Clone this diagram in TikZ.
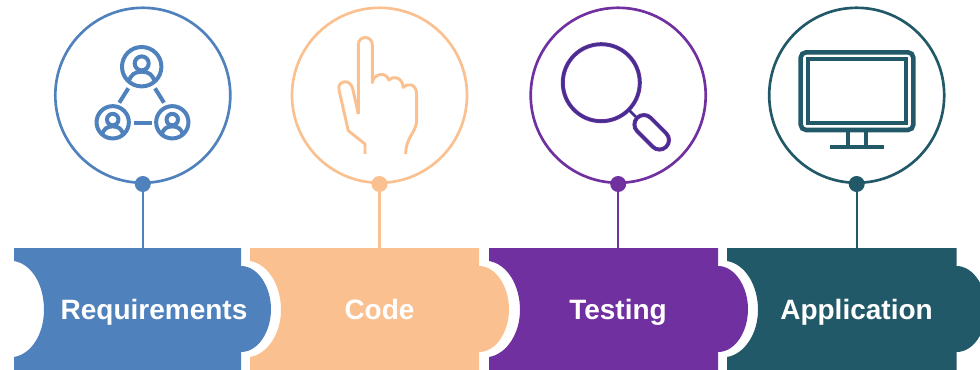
\documentclass[tikz,border=0pt]{standalone}
\usepackage{fontspec}
\setmainfont{Liberation Sans}
\definecolor{reqblue}{HTML}{4F81BD}
\definecolor{codepeach}{HTML}{FAC090}
\definecolor{testpurple}{HTML}{7030A0}
\definecolor{testnavy}{HTML}{41308F}
\definecolor{appteal}{HTML}{215968}
\tikzset{
  ring/.style={draw=#1,circle,line width=2pt,minimum size=131.25pt,inner sep=0pt},
  stemdot/.style={fill=#1,circle,minimum size=12pt,inner sep=0pt},
  stemline/.style={draw=#1,line width=1.8pt},
  blocktext/.style={text=white,anchor=base,font=\fontsize{21}{25}\selectfont\bfseries},
  person/.pic={
    \draw (0,0) circle (19.7);
    \draw (0,3.3) circle (7);
    \draw (-13,-15) .. controls (-11,-8) and (-7,-5) .. (0,-5) .. controls (7,-5) and (11,-8) .. (13,-15);
  }
}
\begin{document}
\begin{tikzpicture}[x=0.75pt,y=0.75pt,yscale=-1,xscale=1]
\useasboundingbox (0,0) rectangle (980,370);
% Requirements block
\fill [reqblue] (14,248) -- (241,248) -- (241,266) .. controls (258,266) and (271,287) .. (271,309) .. controls (271,332) and (258,352) .. (241,352) -- (241,370) -- (14,370) -- (14,357) .. controls (32,354) and (44,333) .. (44,310) .. controls (44,285) and (32,264) .. (14,261) -- cycle ;
% Code block
\fill [codepeach] (250,248) -- (479,248) -- (479,266) .. controls (496,266) and (509,287) .. (509,309) .. controls (509,332) and (496,352) .. (479,352) -- (479,370) -- (250,370) -- (250,357) .. controls (268,354) and (281,333) .. (281,310) .. controls (281,285) and (268,264) .. (250,261) -- cycle ;
% Testing block
\fill [testpurple] (489,248) -- (718,248) -- (718,266) .. controls (735,266) and (748,287) .. (748,309) .. controls (748,332) and (735,352) .. (718,352) -- (718,370) -- (489,370) -- (489,357) .. controls (507,354) and (520,333) .. (520,310) .. controls (520,285) and (507,264) .. (489,261) -- cycle ;
% Application block
\fill [appteal] (727,248) -- (956.5,248) -- (956.5,266) .. controls (973.5,266) and (986.5,287) .. (986.5,309) .. controls (986.5,332) and (973.5,352) .. (956.5,352) -- (956.5,370) -- (727,370) -- (727,357) .. controls (745,354) and (758,333) .. (758,310) .. controls (758,285) and (745,264) .. (727,261) -- cycle ;
% Text Node
\node [blocktext] (reqtext) at (154,319.5) {Requirements};
\node [blocktext] (codetext) at (379.5,319.5) {Code};
\node [blocktext] (testtext) at (618,319.5) {Testing};
\node [blocktext] (apptext) at (856.5,319.5) {Application};
% Circles and stems
\node [ring=reqblue] (reqring) at (142.8,95.3) {};
\node [stemdot=reqblue] (reqdot) at (142.8,184) {};
\coordinate (reqtop) at (142.8,248);
\draw [stemline=reqblue] (reqdot) -- (reqtop);
\node [ring=codepeach] (codering) at (379.5,95.3) {};
\node [stemdot=codepeach] (codedot) at (379.5,184) {};
\coordinate (codetop) at (379.5,248);
\draw [stemline=codepeach] (codedot) -- (codetop);
\node [ring=testpurple] (testring) at (618.2,95.3) {};
\node [stemdot=testpurple] (testdot) at (618.2,184) {};
\coordinate (testtop) at (618.2,248);
\draw [stemline=testpurple] (testdot) -- (testtop);
\node [ring=appteal] (appring) at (856.7,95.3) {};
\node [stemdot=appteal] (appdot) at (856.7,184) {};
\coordinate (apptop) at (856.7,248);
\draw [stemline=appteal] (appdot) -- (apptop);
% Shape: people
\begin{scope}[draw=reqblue,line width=3pt]
\pic at (141.7,66.7) {person};
\pic [scale=0.82] at (112.7,122.3) {person};
\pic [scale=0.82] at (172.3,122.3) {person};
\draw (128.3,88.3) -- (119.3,102.7);
\draw (155,88.3) -- (164,102.7);
\draw (134,123) -- (151.7,123);
\end{scope}
% Shape: hand
\draw [codepeach,line width=2.2pt,line join=round] (358.3,114) -- (358.3,45) .. controls (358.3,35) and (372.3,35) .. (372.3,45) -- (372.3,82.7) .. controls (373,75) and (385,70) .. (389,80) .. controls (392,76) and (402,76) .. (403.3,87.3) .. controls (407,83) and (416.7,83) .. (416.7,95) -- (416.7,120) .. controls (416.7,132) and (405.7,137) .. (405.7,154);
\draw [codepeach,line width=2.2pt,line join=round] (365,154) -- (365,144) -- (348.3,130.7) -- (339,90) .. controls (337,80) and (351,78) .. (353,90) -- (358.3,114);
% Shape: magnifier
\draw [testpurple,line width=3pt] (601.3,82.7) circle (38.5);
\draw [testnavy,line width=1.7pt] (601.3,82.7) circle (38.5);
\draw [testnavy,line width=2pt] (629,110) -- (637,118);
\begin{scope}[shift={(651.7,132.3)},rotate=45]
\draw [testpurple,line width=3pt] (-11,-9.5) -- (11,-9.5) arc (-90:90:9.5) -- (-11,9.5) arc (90:270:9.5) -- cycle;
\draw [testnavy,line width=1.7pt] (-11,-9.5) -- (11,-9.5) arc (-90:90:9.5) -- (-11,9.5) arc (90:270:9.5) -- cycle;
\end{scope}
% Shape: monitor
\draw [appteal,line width=3.4pt,rounded corners=4] (800.7,52.3) rectangle (913.3,130);
\draw [appteal,line width=3pt] (807.7,59.3) rectangle (906.3,123);
\draw [appteal,line width=3pt] (848.3,130) -- (848.3,147);
\draw [appteal,line width=3pt] (865.7,130) -- (865.7,147);
\draw [appteal,line width=3pt] (830,147) -- (884,147);
\end{tikzpicture}
\end{document}
